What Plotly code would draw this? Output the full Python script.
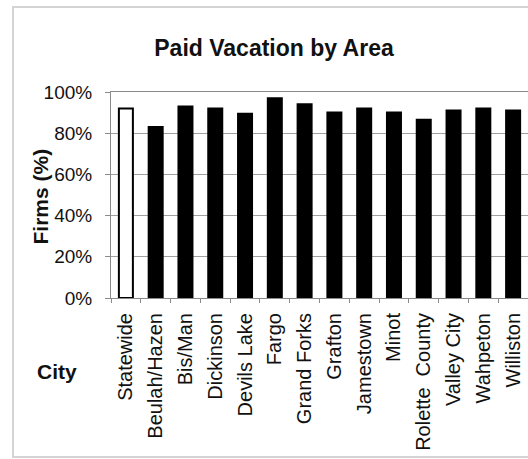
import plotly.graph_objects as go

cities = ["Statewide", "Beulah/Hazen", "Bis/Man", "Dickinson", "Devils Lake", "Fargo",
          "Grand Forks", "Grafton", "Jamestown", "Minot", "Rolette  County",
          "Valley City", "Wahpeton", "Williston"]
pct = [92, 83, 93, 92, 89.5, 97, 94, 90, 92, 90, 86.5, 91, 92, 91]
y_ticks = [0, 20, 40, 60, 80, 100]
y_tick_labels = ["0%", "20%", "40%", "60%", "80%", "100%"]

W, H = 528, 459
ML, MR, MT, MB = 111, 0, 92, 161
pw = W - ML - MR
ph = H - MT - MB

def px(x):
    return (x - ML) / pw

def py(y):
    return (H - MB - y) / ph

fills = ["white"] + ["black"] * (len(cities) - 1)

fig = go.Figure(go.Bar(
    x=cities, y=pct,
    marker=dict(color=fills, line=dict(color="black", width=2)),
    width=0.47,
))

font = "Liberation Sans, Arial, sans-serif"
fig.update_layout(
    width=W, height=H,
    margin=dict(l=ML, r=MR, t=MT, b=MB, pad=0),
    paper_bgcolor="white", plot_bgcolor="white",
    showlegend=False,
    font=dict(family=font, color="#111"),
    title=dict(text="<b>Paid Vacation by Area</b>", x=274 / W, xanchor="center",
               y=1 - 48 / H, yanchor="middle", yref="container",
               font=dict(size=23, family=font, color="#111")),
    xaxis=dict(range=[-0.5, len(cities) - 0.5], showline=True, linecolor="#8a8a8a",
               linewidth=1, mirror=True, ticks="outside", tickson="boundaries",
               ticklen=4, tickcolor="#8a8a8a", tickangle=-90, ticklabelstandoff=6,
               tickfont=dict(size=20, family=font, color="#111"), showgrid=False),
    yaxis=dict(range=[0, 100], tickvals=y_ticks, ticktext=y_tick_labels,
               showline=True, linecolor="#8a8a8a", linewidth=1, ticks="outside",
               ticklen=5, tickcolor="#8a8a8a", showgrid=True, gridcolor="#a0a0a0",
               gridwidth=1, zeroline=False, ticklabelstandoff=9,
               tickfont=dict(size=19, family=font, color="#111")),
    shapes=[dict(type="rect", xref="paper", yref="paper",
                 x0=px(13), x1=px(560), y0=py(457), y1=py(7),
                 line=dict(color="#d4d4d4", width=2), layer="below")],
    annotations=[
        dict(text="<b>Firms (%)</b>", textangle=-90, xref="paper", yref="paper",
             x=px(40), y=py(196.5), showarrow=False, xanchor="center", yanchor="middle",
             font=dict(size=21, family=font, color="#111")),
        dict(text="<b>City</b>", xref="paper", yref="paper",
             x=px(57), y=py(371), showarrow=False, xanchor="center", yanchor="middle",
             font=dict(size=21, family=font, color="#111")),
    ],
)

fig.write_html("out.html", config={"displayModeBar": False},
               post_script="document.body.style.margin='0';")
